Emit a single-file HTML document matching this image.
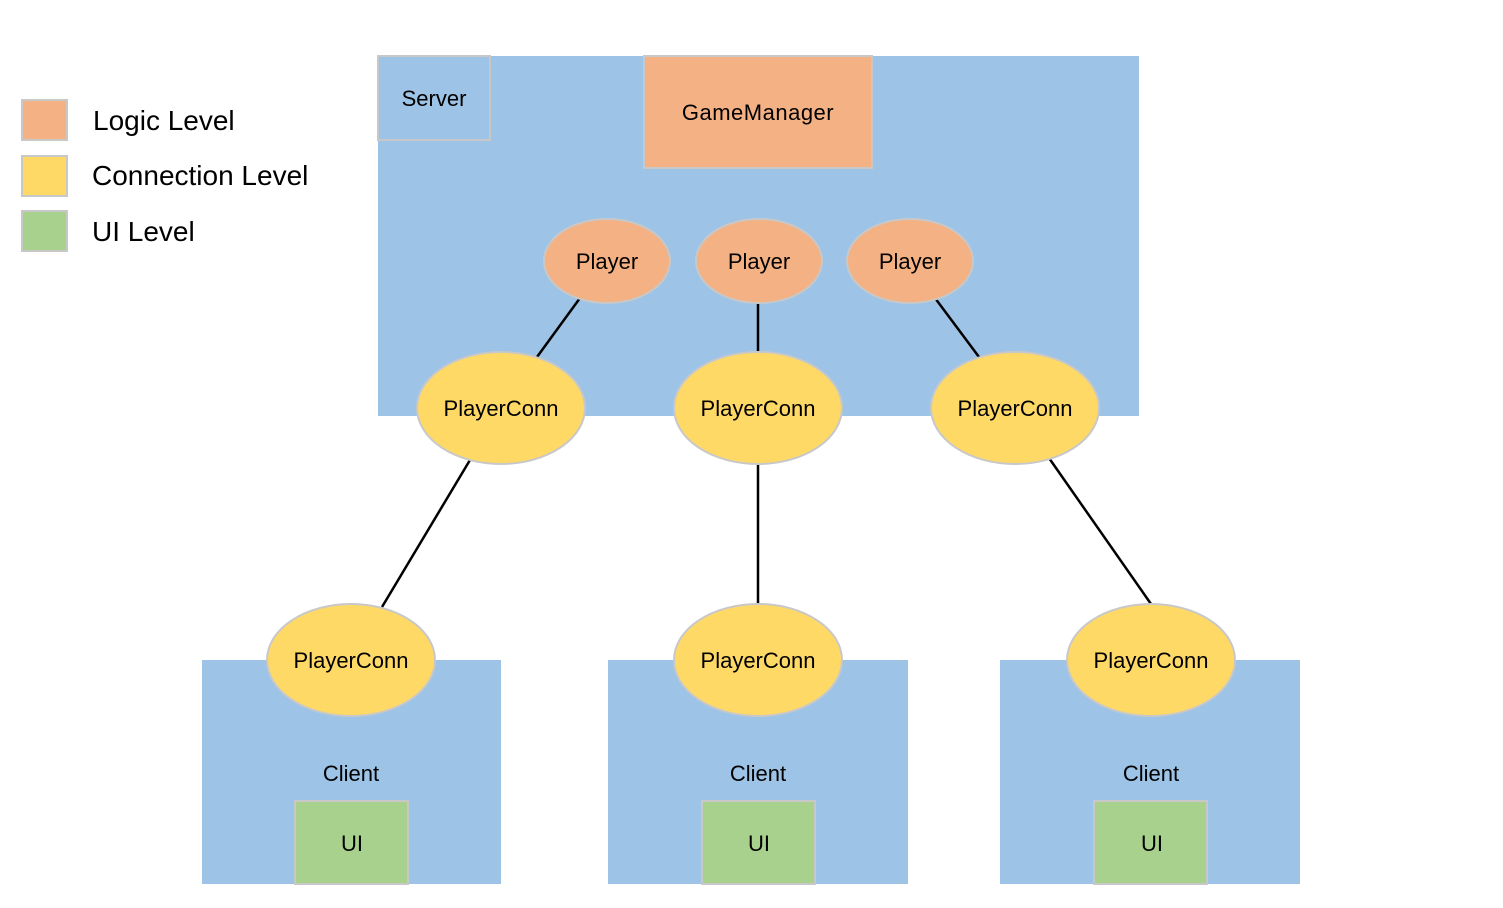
<!DOCTYPE html>
<html><head><meta charset="utf-8"><style>body{margin:0;background:#fff}</style></head><body>
<svg width="1503" height="903" xmlns="http://www.w3.org/2000/svg" font-family="Liberation Sans, sans-serif">
<rect x="378" y="56" width="761" height="360" fill="#9DC3E6"/>
<rect x="378" y="56" width="112" height="84" fill="#9DC3E6" stroke="#c8c8c8" stroke-width="2"/>
<text x="434" y="106" font-size="22" text-anchor="middle">Server</text>
<rect x="644" y="56" width="228" height="112" fill="#F4B183" stroke="#c8c8c8" stroke-width="2"/>
<text x="758" y="120" font-size="22" text-anchor="middle" letter-spacing="0.5">GameManager</text>
<rect x="202" y="660" width="299" height="224" fill="#9DC3E6"/>
<rect x="608" y="660" width="300" height="224" fill="#9DC3E6"/>
<rect x="1000" y="660" width="300" height="224" fill="#9DC3E6"/>
<g stroke="#000" stroke-width="2.5">
<line x1="580" y1="298" x2="537" y2="357"/><line x1="758" y1="302" x2="758" y2="352"/><line x1="935" y1="298" x2="979" y2="357"/>
<line x1="470" y1="460" x2="382" y2="607"/><line x1="758" y1="464" x2="758" y2="604"/><line x1="1049" y1="458" x2="1151" y2="604"/>
</g>
<g fill="#F4B183" stroke="#c8c8c8" stroke-width="2">
<ellipse cx="607" cy="261" rx="63" ry="42"/><ellipse cx="759" cy="261" rx="63" ry="42"/><ellipse cx="910" cy="261" rx="63" ry="42"/>
</g>
<g fill="#FFD966" stroke="#c8c8c8" stroke-width="2">
<ellipse cx="501" cy="408" rx="84" ry="56"/><ellipse cx="758" cy="408" rx="84" ry="56"/><ellipse cx="1015" cy="408" rx="84" ry="56"/>
<ellipse cx="351" cy="660" rx="84" ry="56"/><ellipse cx="758" cy="660" rx="84" ry="56"/><ellipse cx="1151" cy="660" rx="84" ry="56"/>
</g>
<g fill="#A9D18E" stroke="#c8c8c8" stroke-width="2">
<rect x="295" y="801" width="113" height="83"/><rect x="702" y="801" width="113" height="83"/><rect x="1094" y="801" width="113" height="83"/>
</g>
<g font-size="22" text-anchor="middle">
<text x="607" y="269">Player</text><text x="759" y="269">Player</text><text x="910" y="269">Player</text>
<text x="501" y="416">PlayerConn</text><text x="758" y="416">PlayerConn</text><text x="1015" y="416">PlayerConn</text>
<text x="351" y="668">PlayerConn</text><text x="758" y="668">PlayerConn</text><text x="1151" y="668">PlayerConn</text>
<text x="351" y="781">Client</text><text x="758" y="781">Client</text><text x="1151" y="781">Client</text>
<text x="352" y="851">UI</text><text x="759" y="851">UI</text><text x="1152" y="851">UI</text>
</g>
<rect x="22" y="100" width="45" height="40" fill="#F4B183" stroke="#c8c8c8" stroke-width="2"/>
<rect x="22" y="156" width="45" height="40" fill="#FFD966" stroke="#c8c8c8" stroke-width="2"/>
<rect x="22" y="211" width="45" height="40" fill="#A9D18E" stroke="#c8c8c8" stroke-width="2"/>
<g font-size="28">
<text x="93" y="130">Logic Level</text><text x="92" y="185">Connection Level</text><text x="92" y="241">UI Level</text>
</g>
</svg>
</body></html>
